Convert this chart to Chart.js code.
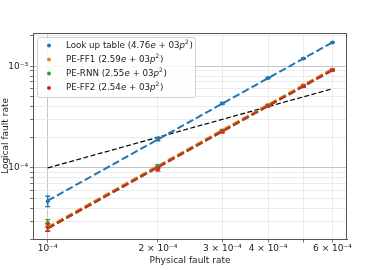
<!DOCTYPE html>
<html><head><meta charset="utf-8">
<script src="https://cdn.jsdelivr.net/npm/chart.js@4/dist/chart.umd.min.js"></script>
<style>html,body{margin:0;padding:0;background:#fff;overflow:hidden}#wrap{position:relative;width:388px;height:270px}</style>
</head><body><div id="wrap"><canvas id="c" width="388" height="270"></canvas></div>
<script>
// ---------- data ----------
const physicalRates = [1e-4, 2e-4, 3e-4, 4e-4, 5e-4, 6e-4];
const seriesNames = ['Look up table', 'PE-FF1', 'PE-RNN', 'PE-FF2'];
const fitMantissas = ['4.76', '2.59', '2.55', '2.54'];
const fitExponent = '03';
const lookUpTable = [4.71e-5, 1.92e-4, 4.30e-4, 7.65e-4, 1.19e-3, 1.71e-3];
const peFF1 = [2.62e-5, 1.03e-4, 2.33e-4, 4.15e-4, 6.50e-4, 9.30e-4];
const peRNN = [2.88e-5, 1.03e-4, 2.30e-4, 4.10e-4, 6.40e-4, 9.20e-4];
const peFF2 = [2.60e-5, 9.70e-5, 2.27e-4, 4.06e-4, 6.35e-4, 9.15e-4];
const lookUpErr = [5.5e-6, 7e-6, 9e-6, 1.1e-5, 1.3e-5, 1.5e-5];
const peFF1Err = [2.2e-6, 4e-6, 6e-6, 8e-6, 1e-5, 1.2e-5];
const peRNNErr = [2.2e-6, 4e-6, 6e-6, 8e-6, 1e-5, 1.2e-5];
const peFF2Err = [2.2e-6, 4e-6, 6e-6, 8e-6, 1e-5, 1.2e-5];
const fitRange = [1e-4, 6e-4];
const lookUpFit = [4.76e-5, 1.714e-3];
const peFF1Fit = [2.59e-5, 9.32e-4];
const peRNNFit = [2.55e-5, 9.18e-4];
const peFF2Fit = [2.54e-5, 9.14e-4];
const referenceLine = [1e-4, 6e-4];
const xTickValues = [1e-4, 2e-4, 3e-4, 4e-4, 5e-4, 6e-4];
const xTickLabels = ['10\u207B\u2074', '2 \u00D7 10\u207B\u2074', '3 \u00D7 10\u207B\u2074', '4 \u00D7 10\u207B\u2074', '', '6 \u00D7 10\u207B\u2074'];
const xMajorTicks = [1e-4];
const yTickValues = [2e-5, 3e-5, 4e-5, 5e-5, 6e-5, 7e-5, 8e-5, 9e-5, 1e-4, 2e-4, 3e-4, 4e-4, 5e-4, 6e-4, 7e-4, 8e-4, 9e-4, 1e-3, 2e-3];
const yMajorTicks = [1e-4, 1e-3];
const yMajorLabels = ['10\u207B\u2074', '10\u207B\u00B3'];

// ---------- styling ----------
const colors = ['#1f77b4', '#ff7f0e', '#2ca02c', '#d62728'];
const fitWidths = [2, 3, 2.6, 2.1];
const FONT = '"DejaVu Sans", sans-serif';
const seriesValues = [lookUpTable, peFF1, peRNN, peFF2];
const seriesErrors = [lookUpErr, peFF1Err, peRNNErr, peFF2Err];
const seriesFits = [lookUpFit, peFF1Fit, peRNNFit, peFF2Fit];

const datasets = [];
seriesNames.forEach((name, i) => {
  datasets.push({
    type: 'scatter', label: name,
    data: physicalRates.map((x, j) => ({x: x, y: seriesValues[i][j]})),
    errors: seriesErrors[i],
    backgroundColor: colors[i], borderColor: colors[i],
    pointRadius: 2, pointBorderWidth: 0, showLine: false,
    order: 10 - 2 * i
  });
  datasets.push({
    type: 'line', label: name + ' fit',
    data: fitRange.map((x, j) => ({x: x, y: seriesFits[i][j]})),
    borderColor: colors[i], borderWidth: fitWidths[i],
    borderDash: [7.4, 3.2],
    pointRadius: 0, fill: false, tension: 0,
    order: 9 - 2 * i
  });
});
datasets.push({
  type: 'line', label: 'reference',
  data: fitRange.map((x, j) => ({x: x, y: referenceLine[j]})),
  borderColor: '#000', borderWidth: 1.2, borderDash: [5, 2.4],
  pointRadius: 0, fill: false, order: 12
});

const errorBars = {
  id: 'errorBars',
  afterDatasetsDraw(chart) {
    const ctx = chart.ctx, xs = chart.scales.x, ys = chart.scales.y;
    ctx.save();
    chart.data.datasets.forEach(ds => {
      if (!ds.errors) return;
      ctx.strokeStyle = ds.borderColor; ctx.lineWidth = 1.4;
      ds.data.forEach((p, j) => {
        const px = xs.getPixelForValue(p.x);
        const y1 = ys.getPixelForValue(p.y - ds.errors[j]);
        const y2 = ys.getPixelForValue(p.y + ds.errors[j]);
        ctx.beginPath();
        ctx.moveTo(px, y1); ctx.lineTo(px, y2);
        ctx.moveTo(px - 2.5, y1); ctx.lineTo(px + 2.5, y1);
        ctx.moveTo(px - 2.5, y2); ctx.lineTo(px + 2.5, y2);
        ctx.stroke();
      });
    });
    const a = chart.chartArea;
    ctx.strokeStyle = '#555'; ctx.lineWidth = 1;
    ctx.beginPath();
    ctx.moveTo(a.left, a.top + 0.5); ctx.lineTo(a.right, a.top + 0.5);
    ctx.moveTo(a.right - 0.5, a.top); ctx.lineTo(a.right - 0.5, a.bottom);
    ctx.stroke();
    ctx.restore();
  }
};

const mathLegend = {
  id: 'mathLegend',
  afterDraw(chart) {
    const ctx = chart.ctx;
    ctx.save();
    const bx = 37.5, by = 37.5, bw = 158, bh = 60;
    ctx.fillStyle = 'rgba(255,255,255,0.85)';
    ctx.strokeStyle = '#d0d0d0'; ctx.lineWidth = 1;
    ctx.beginPath();
    ctx.roundRect(bx, by, bw, bh, 2.5);
    ctx.fill(); ctx.stroke();
    const rowY = [45.5, 59.5, 73.5, 88];
    seriesNames.forEach((name, i) => {
      const y = rowY[i];
      ctx.fillStyle = colors[i];
      ctx.beginPath(); ctx.arc(49, y, 2, 0, Math.PI * 2); ctx.fill();
      ctx.fillStyle = '#222';
      ctx.textBaseline = 'middle';
      let x = 66;
      const parts = [
        [name + ' (' + fitMantissas[i], 'normal'],
        ['e', 'italic'],
        [' + ' + fitExponent, 'normal'],
        ['p', 'italic'],
        ['2', 'sup'],
        [')', 'normal']
      ];
      parts.forEach(([t, st]) => {
        if (st === 'sup') { ctx.font = '6px ' + FONT; ctx.fillText(t, x, y - 3.5); }
        else { ctx.font = (st === 'italic' ? 'italic ' : '') + '8.7px ' + FONT; ctx.fillText(t, x, y); }
        x += ctx.measureText(t).width + (st === 'sup' ? 0.5 : 0);
      });
    });
    ctx.restore();
  }
};

new Chart(document.getElementById('c'), {
  data: {datasets: datasets},
  options: {
    responsive: false, animation: false,
    layout: {padding: {top: 33, right: 41, left: 0, bottom: 0}},
    plugins: {legend: {display: false}, tooltip: {enabled: false}},
    scales: {
      x: {
        type: 'logarithmic', position: 'bottom', min: 9.116e-5, max: 6.574e-4,
        afterBuildTicks: s => { s.ticks = xTickValues.map(v => ({value: v})); },
        afterFit: s => { s.height = 31; },
        ticks: {
          autoSkip: false, maxRotation: 0, padding: 1, color: '#222',
          font: {family: FONT, size: 9},
          callback: (v, i) => xTickLabels[i]
        },
        grid: {
          color: c => (c.tick && xMajorTicks.includes(c.tick.value)) ? '#b8b8b8' : '#e6e6e6',
          tickColor: '#555', tickLength: 3.5, lineWidth: 0.8
        },
        border: {color: '#555', width: 1},
        title: {display: true, text: 'Physical fault rate', color: '#222', font: {family: FONT, size: 9}, padding: {top: 0, bottom: 4}}
      },
      y: {
        type: 'logarithmic', position: 'left', min: 2.0e-5, max: 2.12e-3,
        afterBuildTicks: s => { s.ticks = yTickValues.map(v => ({value: v})); },
        afterFit: s => { s.width = 33; },
        ticks: {
          autoSkip: false, padding: 2, color: '#222',
          font: {family: FONT, size: 9},
          callback: (v) => { const k = yMajorTicks.indexOf(v); return k >= 0 ? yMajorLabels[k] : ''; }
        },
        grid: {
          color: c => (c.tick && yMajorTicks.includes(c.tick.value)) ? '#b8b8b8' : '#e6e6e6',
          tickColor: '#555', tickLength: 3, lineWidth: 0.8
        },
        border: {color: '#555', width: 1},
        title: {display: true, text: 'Logical fault rate', color: '#222', font: {family: FONT, size: 9}, padding: 0}
      }
    }
  },
  plugins: [errorBars, mathLegend]
});
</script></body></html>
